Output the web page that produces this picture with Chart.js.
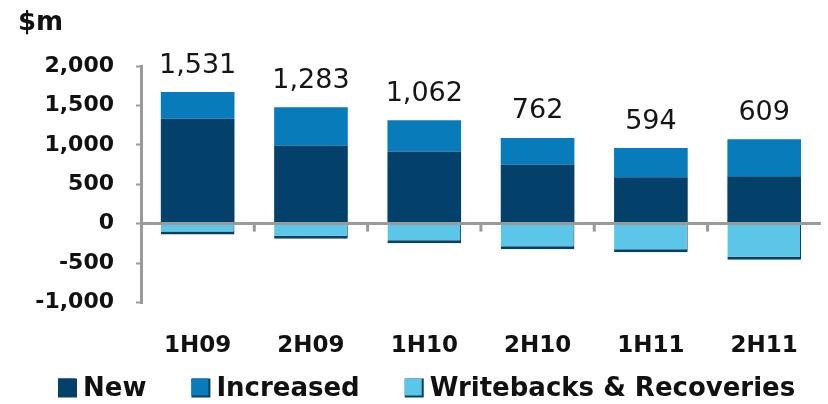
<!DOCTYPE html>
<html>
<head>
<meta charset="utf-8">
<script src="https://cdn.jsdelivr.net/npm/chart.js@4"></script>
<style>
  html, body { margin: 0; background: #fff; }
  canvas { display: block; }
</style>
</head>
<body>
<canvas id="provisions-chart" width="828" height="404"></canvas>
<script>
// Half-yearly provisions, $m
const periods = ['1H09', '2H09', '1H10', '2H10', '1H11', '2H11'];
const newProvisions = [1330, 990, 915, 750, 588, 600];
const increasedProvisions = [340, 485, 397, 337, 370, 469];
const writebacks = [-139, -192, -250, -325, -364, -460];
const yTicks = [-1000, -500, 0, 500, 1000, 1500, 2000];

const NAVY = '#03416a';
const MID_BLUE = '#087cba';
const LIGHT_BLUE = '#5bc6e8';
const SHADOW = '#0b3f60';
const AXIS_GREY = '#9a9a9a';
const FONT = '"DejaVu Sans", Verdana, sans-serif';

// net figure printed above each column
const netTotals = periods.map((_, i) => newProvisions[i] + increasedProvisions[i] + writebacks[i]);

// small down ticks on the zero line between columns
const zeroLineTicks = {
    id: 'zeroLineTicks',
    beforeDatasetsDraw(chart) {
        const { ctx, scales: { x, y } } = chart;
        const y0 = y.getPixelForValue(0);
        ctx.save();
        ctx.strokeStyle = AXIS_GREY;
        ctx.lineWidth = 3;
        for (let i = 1; i < periods.length; i++) {
            const xp = (x.getPixelForValue(i - 1) + x.getPixelForValue(i)) / 2;
            ctx.beginPath();
            ctx.moveTo(xp, y0);
            ctx.lineTo(xp, y0 + 8);
            ctx.stroke();
        }
        ctx.restore();
    }
};

const netLabels = {
    id: 'netLabels',
    afterDatasetsDraw(chart) {
        const { ctx } = chart;
        const meta = chart.getDatasetMeta(1);
        ctx.save();
        ctx.font = '27px ' + FONT;
        ctx.fillStyle = '#151515';
        ctx.textAlign = 'center';
        ctx.textBaseline = 'bottom';
        meta.data.forEach((bar, i) => {
            ctx.fillText(netTotals[i].toLocaleString('en-US'), bar.x, bar.y - 13);
        });
        ctx.restore();
    }
};

// unit caption and the legend row along the bottom
const captions = {
    id: 'captions',
    afterDraw(chart) {
        const { ctx } = chart;
        ctx.save();
        ctx.fillStyle = '#111';
        ctx.font = 'bold 26px ' + FONT;
        ctx.textBaseline = 'middle';
        ctx.textAlign = 'left';
        ctx.fillText('$m', 18, 23);

        const box = 19, textGap = 6, itemGap = 45;
        let x = 58;
        const yMid = 388;
        chart.data.datasets.forEach(ds => {
            ctx.fillStyle = SHADOW;
            ctx.fillRect(x, yMid - box / 2, box, box);
            ctx.fillStyle = ds.backgroundColor;
            ctx.fillRect(x, yMid - box / 2, box - 2, box - 2);
            ctx.fillStyle = '#111';
            ctx.fillText(ds.label, x + box + textGap, yMid + 1);
            x += box + textGap + ctx.measureText(ds.label).width + itemGap;
        });
        ctx.restore();
    }
};

new Chart(document.getElementById('provisions-chart'), {
    type: 'bar',
    data: {
        labels: periods,
        datasets: [
            {
                label: 'New',
                data: newProvisions,
                backgroundColor: NAVY
            },
            {
                label: 'Increased',
                data: increasedProvisions,
                backgroundColor: MID_BLUE
            },
            {
                label: 'Writebacks & Recoveries',
                data: writebacks,
                backgroundColor: LIGHT_BLUE,
                borderColor: SHADOW,
                borderWidth: { top: 0, left: 0, right: 1, bottom: 3 },
                borderSkipped: false
            }
        ]
    },
    options: {
        responsive: false,
        animation: false,
        barPercentage: 0.65,
        categoryPercentage: 1.0,
        layout: { padding: { top: 66, right: 2, bottom: 14, left: 0 } },
        plugins: {
            legend: { display: false },
            tooltip: { enabled: false }
        },
        scales: {
            x: {
                stacked: true,
                grid: { display: false, drawTicks: false },
                border: { display: false },
                ticks: {
                    color: '#111',
                    padding: 30,
                    font: { family: FONT, size: 23, weight: 'bold' }
                }
            },
            y: {
                stacked: true,
                min: -1000,
                max: 2000,
                afterBuildTicks: scale => {
                    scale.ticks = yTicks.map(v => ({ value: v }));
                },
                afterFit: scale => { scale.width = 141; },
                border: { color: AXIS_GREY, width: 3 },
                grid: {
                    color: c => c.tick && c.tick.value === 0 ? AXIS_GREY : 'rgba(0,0,0,0)',
                    lineWidth: 3,
                    tickColor: AXIS_GREY,
                    tickWidth: 2,
                    tickLength: 5
                },
                ticks: {
                    color: '#111',
                    padding: 22,
                    font: { family: FONT, size: 22, weight: 'bold' },
                    callback: v => v.toLocaleString('en-US')
                }
            }
        }
    },
    plugins: [zeroLineTicks, netLabels, captions]
});
</script>
</body>
</html>
